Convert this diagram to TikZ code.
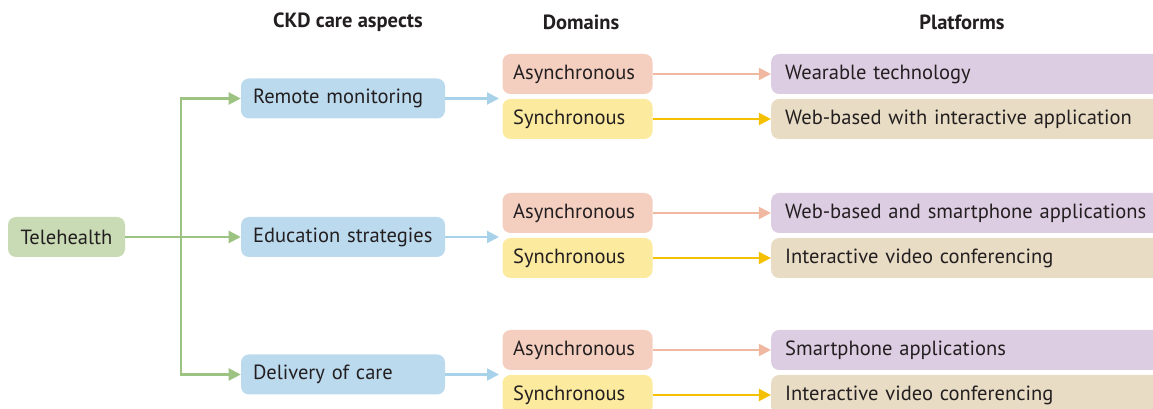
\documentclass[tikz,border=0pt]{standalone}
\usepackage{fontspec}
\setmainfont{PT Sans}
\usetikzlibrary{positioning,arrows.meta}
\definecolor{txtdark}{HTML}{231F20}
\definecolor{telefill}{HTML}{C8DBB5}
\definecolor{teleline}{HTML}{9DC383}
\definecolor{carefill}{HTML}{BBDAEE}
\definecolor{careline}{HTML}{A8D2EA}
\definecolor{asyfill}{HTML}{F4CFC0}
\definecolor{asyline}{HTML}{F0B8A0}
\definecolor{synfill}{HTML}{FCEA9F}
\definecolor{synline}{HTML}{F5C000}
\definecolor{platafill}{HTML}{DDCDE2}
\definecolor{platsfill}{HTML}{E8DCC5}
\newcommand{\boxfont}{\fontsize{15.4}{18}\selectfont}
\tikzset{
  flowarrow/.style={-{Triangle[length=9pt,width=9pt]}, line width=1.6pt},
  telebox/.style={fill=telefill, rounded corners=6pt, minimum width=87.75pt, minimum height=30pt, align=center},
  carebox/.style={fill=carefill, rounded corners=6pt, minimum height=30pt, inner xsep=9pt, text width=135pt, align=left},
  asybox/.style={fill=asyfill, rounded corners=6pt, minimum height=30pt, inner xsep=8pt, text width=96.5pt, align=left},
  synbox/.style={asybox, fill=synfill},
  platbox/.style={fill=platafill, rounded corners=6pt, minimum height=30pt, inner xsep=10.5pt, text width=293pt, align=left},
  platsbox/.style={platbox, fill=platsfill},
  header/.style={font=\boxfont\bfseries}
}
\begin{document}
\begin{tikzpicture}[x=0.75pt, y=-0.75pt, every node/.style={font=\boxfont, text=txtdark}]
  \useasboundingbox (0,0) rectangle (1153,409);
  \clip (0,0) rectangle (1153,409);
  % column headers
  \node[header] (hcare) at (348,22) {CKD care aspects};
  \node[header] (hdom) at (581,22) {Domains};
  \node[header] (hplat) at (962,22) {Platforms};
  % root and care aspects
  \node[telebox] (tele) at (66.5,237) {Telehealth};
  \node[carebox] (remote) at (343,98.5) {Remote monitoring};
  \node[carebox] (educ) at (343,237) {Education strategies};
  \node[carebox] (deliv) at (343,374.5) {Delivery of care};
  \coordinate (split) at (181,237);
  \draw[flowarrow, teleline] (tele) -- (educ);
  \draw[flowarrow, teleline] (split) |- (remote.west);
  \draw[flowarrow, teleline] (split) |- (deliv.west);
  % domains
  \node[asybox] (asy1) at (577.5,74) {Asynchronous};
  \node[synbox] (syn1) at (577.5,119) {Synchronous};
  \node[asybox] (asy2) at (577.5,213) {Asynchronous};
  \node[synbox] (syn2) at (577.5,258) {Synchronous};
  \node[asybox] (asy3) at (577.5,350) {Asynchronous};
  \node[synbox] (syn3) at (577.5,395) {Synchronous};
  \coordinate (gap1) at (499,98.5);
  \coordinate (gap2) at (499,237);
  \coordinate (gap3) at (499,374.5);
  \draw[flowarrow, careline] (remote) -- (gap1);
  \draw[flowarrow, careline] (educ) -- (gap2);
  \draw[flowarrow, careline] (deliv) -- (gap3);
  % platforms
  \node[platbox] (plat1a) at (980.5,74) {Wearable technology};
  \node[platsbox] (plat1s) at (980.5,119) {Web-based with interactive application};
  \node[platbox] (plat2a) at (980.5,213) {Web-based and smartphone applications};
  \node[platsbox] (plat2s) at (980.5,258) {Interactive video conferencing};
  \node[platbox] (plat3a) at (980.5,350) {Smartphone applications};
  \node[platsbox] (plat3s) at (980.5,395) {Interactive video conferencing};
  \draw[flowarrow, asyline] (asy1) -- (plat1a);
  \draw[flowarrow, synline] (syn1) -- (plat1s);
  \draw[flowarrow, asyline] (asy2) -- (plat2a);
  \draw[flowarrow, synline] (syn2) -- (plat2s);
  \draw[flowarrow, asyline] (asy3) -- (plat3a);
  \draw[flowarrow, synline] (syn3) -- (plat3s);
\end{tikzpicture}
\end{document}
